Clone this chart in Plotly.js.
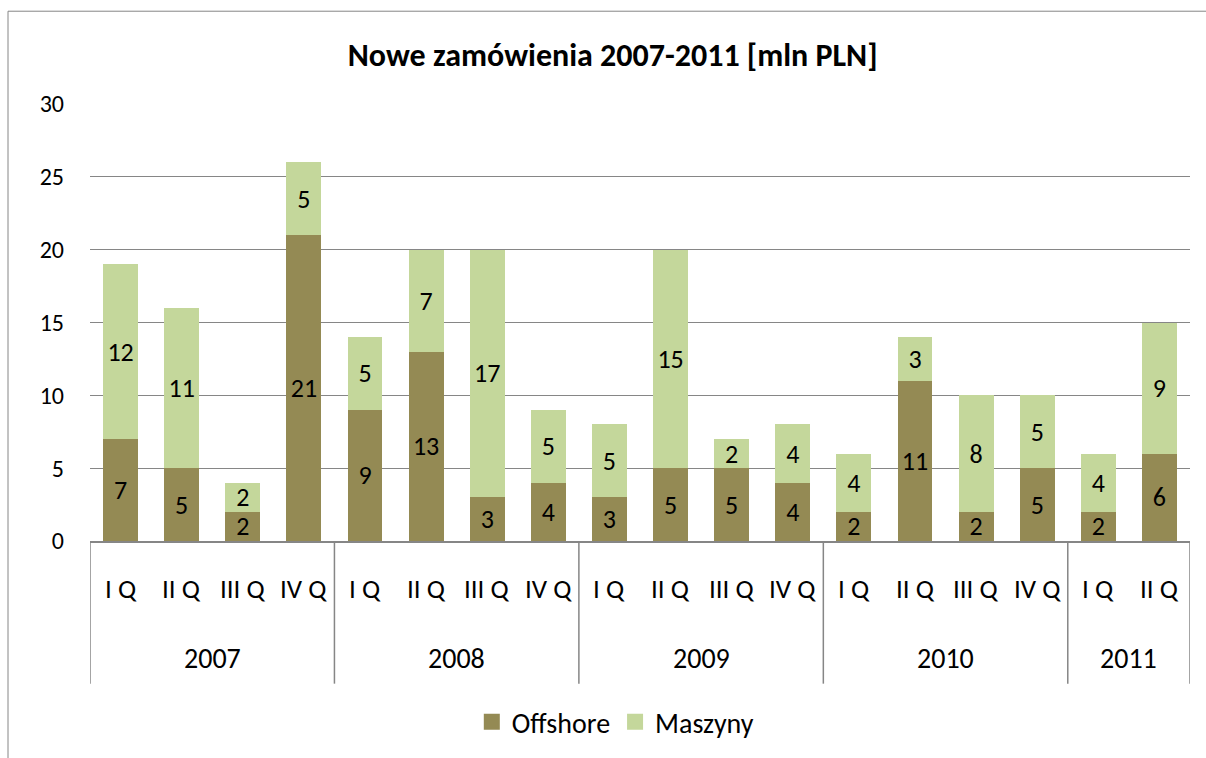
<!DOCTYPE html>
<html>
<head>
<meta charset="utf-8">
<script src="https://cdn.plot.ly/plotly-3.0.1.min.js"></script>
<style>html,body{margin:0;padding:0;background:#fff;}#chart{width:1206px;height:758px;}</style>
</head>
<body>
<div id="chart"></div>
<script>
const quarters = ['I Q','II Q','III Q','IV Q','I Q','II Q','III Q','IV Q','I Q','II Q','III Q','IV Q','I Q','II Q','III Q','IV Q','I Q','II Q'];
const years = ['2007','2007','2007','2007','2008','2008','2008','2008','2009','2009','2009','2009','2010','2010','2010','2010','2011','2011'];
const offshore = [7,5,2,21,9,13,3,4,3,5,5,4,2,11,2,5,2,6];
const maszyny = [12,11,2,5,5,7,17,5,5,15,2,4,4,3,8,5,4,9];

const cats = quarters.map((q,i)=>years[i]+'|'+q+'|'+i);
const font = 'Carlito, Calibri, "Open Sans", "Noto Sans", sans-serif';
const colors = {Offshore:'#948A54', Maszyny:'#C4D79B'};

const mk = (name, vals) => ({
  type:'bar', name:name, x:cats, y:vals, text:vals.map(String), showlegend:false,
  textposition:'inside', insidetextanchor:'middle', constraintext:'none', textangle:0,
  textfont:{size:26, color:'#000', family:font},
  marker:{color:colors[name], line:{width:0}}, hoverinfo:'skip'
});
const lg = (name) => ({
  type:'scatter', mode:'markers', name:name, x:[null], y:[null], showlegend:true,
  marker:{symbol:'square', size:16, color:colors[name]}, hoverinfo:'skip'
});

const plotH = 438;
const annotations = [];
const shapes = [];
quarters.forEach((q,i)=>{
  annotations.push({x:cats[i], xref:'x', yref:'paper', y:-48/plotH, text:q, showarrow:false,
    font:{size:27, family:font, color:'#000'}, xanchor:'center', yanchor:'middle'});
});
const uniqYears = [...new Set(years)];
uniqYears.forEach(y=>{
  const first = years.indexOf(y), last = years.lastIndexOf(y);
  annotations.push({x:(first+last)/2, xref:'x', yref:'paper', y:-118/plotH, text:y, showarrow:false,
    font:{size:28, family:font, color:'#000'}, xanchor:'center', yanchor:'middle'});
  shapes.push({type:'line', xref:'x', yref:'paper', x0:first-0.5, x1:first-0.5, y0:0, y1:-143/plotH,
    line:{color:'#868686', width:1.5}});
});
shapes.push({type:'line', xref:'x', yref:'paper', x0:years.length-0.5, x1:years.length-0.5, y0:0, y1:-143/plotH,
  line:{color:'#868686', width:1.5}});
shapes.push({type:'rect', xref:'paper', yref:'paper', x0:(8-90)/1100, x1:(1260-90)/1100, y0:(542-11)/plotH, y1:(542-800)/plotH,
  line:{color:'#868686', width:1}, fillcolor:'rgba(0,0,0,0)'});

const layout = {
  width:1206, height:758,
  margin:{l:90, r:16, t:104, b:216},
  barmode:'stack', bargap:0.43,
  paper_bgcolor:'#fff', plot_bgcolor:'#fff',
  font:{family:font, size:24, color:'#000'},
  title:{text:'<b>Nowe zamówienia 2007-2011 [mln PLN]</b>', font:{size:32, family:font, color:'#000'},
    xref:'container', x:0.508, xanchor:'center', yref:'container', y:1-55/758, yanchor:'middle'},
  xaxis:{type:'category', showticklabels:false, showgrid:false, zeroline:false, showline:true,
    linecolor:'#868686', linewidth:1.5, ticks:'', range:[-0.5, quarters.length-0.5]},
  yaxis:{range:[0,30], dtick:5, showgrid:true, gridcolor:'#868686', gridwidth:1.2, zeroline:false,
    showline:false, ticks:'', ticklabelstandoff:25, tickfont:{size:24, family:font, color:'#000'}},
  legend:{orientation:'h', x:0.478, xanchor:'center', y:-180/plotH, yanchor:'middle',
    font:{size:28, family:font, color:'#000'}, itemwidth:30, traceorder:'normal'},
  annotations:annotations, shapes:shapes
};

Plotly.newPlot('chart', [mk('Offshore', offshore), mk('Maszyny', maszyny), lg('Offshore'), lg('Maszyny')], layout, {displayModeBar:false, staticPlot:true});
</script>
</body>
</html>
